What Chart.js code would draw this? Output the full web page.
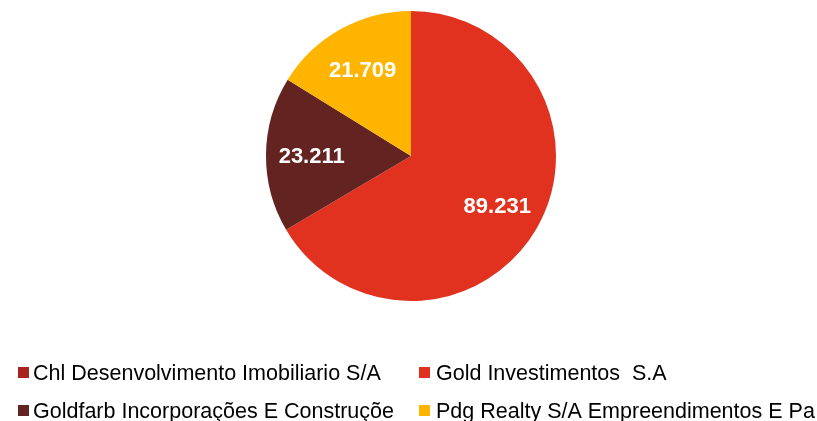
<!DOCTYPE html>
<html>
<head>
<meta charset="utf-8">
<script src="https://cdn.jsdelivr.net/npm/chart.js@4"></script>
<style>
  body { margin: 0; background: #fff; }
  .wrap { position: relative; width: 817px; height: 421px; overflow: hidden; }
  canvas { position: absolute; left: 0; top: 0; }
  .legend { position: absolute; font-family: "Liberation Sans", Arial, sans-serif; font-size: 21.5px; line-height: 21px; color: #000; white-space: nowrap; padding-left: 15px; }
  .legend span.box { position: absolute; left: 0; top: 4px; width: 11px; height: 11px; }
</style>
</head>
<body>
<div class="wrap">
  <canvas id="pie" width="817" height="421"></canvas>
  <div id="legend"></div>
</div>
<script>
const labels = ['Chl Desenvolvimento Imobiliario S/A', 'Gold Investimentos  S.A', 'Goldfarb Incorporações E Construçõe', 'Pdg Realty S/A Empreendimentos E Pa'];
const values = [0, 89.231, 23.211, 21.709];
const valueText = ['0', '89.231', '23.211', '21.709'];
const colors = ['#A8221F', '#E0321F', '#632320', '#FFB500'];

document.addEventListener("DOMContentLoaded", () => {
    const legendPos = [[18, 363], [419, 363], [18, 401], [419, 401]];
    const legend = document.getElementById('legend');
    labels.forEach((l, i) => {
        const d = document.createElement('div');
        d.className = 'legend';
        d.style.left = legendPos[i][0] + 'px';
        d.style.top = legendPos[i][1] + 'px';
        if (i % 2) d.style.paddingLeft = '17px';
        d.innerHTML = '<span class="box" style="background:' + colors[i] + '"></span>' + l.replace(/ /g, '&nbsp;');
        legend.appendChild(d);
    });

    const labelPlugin = {
        id: 'sliceLabels',
        afterDatasetsDraw(chart) {
            const ctx = chart.ctx;
            const meta = chart.getDatasetMeta(0);
            ctx.save();
            ctx.fillStyle = '#fff';
            ctx.font = 'bold 22px "Liberation Sans", Arial, sans-serif';
            ctx.textAlign = 'center';
            ctx.textBaseline = 'middle';
            meta.data.forEach((arc, i) => {
                if (!values[i]) return;
                const mid = (arc.startAngle + arc.endAngle) / 2;
                const r = arc.outerRadius * 0.685;
                ctx.fillText(valueText[i], arc.x + Math.cos(mid) * r, arc.y + Math.sin(mid) * r + 2);
            });
            ctx.restore();
        }
    };

    const ctx = document.getElementById('pie').getContext('2d');
    new Chart(ctx, {
        type: 'pie',
        data: {
            labels: labels,
            datasets: [{
                data: values,
                backgroundColor: colors,
                borderWidth: 0
            }]
        },
        options: {
            responsive: false,
            animation: false,
            layout: { padding: { top: 11, bottom: 120, left: 266, right: 261 } },
            plugins: {
                legend: { display: false },
                tooltip: { enabled: false }
            }
        },
        plugins: [labelPlugin]
    });
});
</script>
</body>
</html>
